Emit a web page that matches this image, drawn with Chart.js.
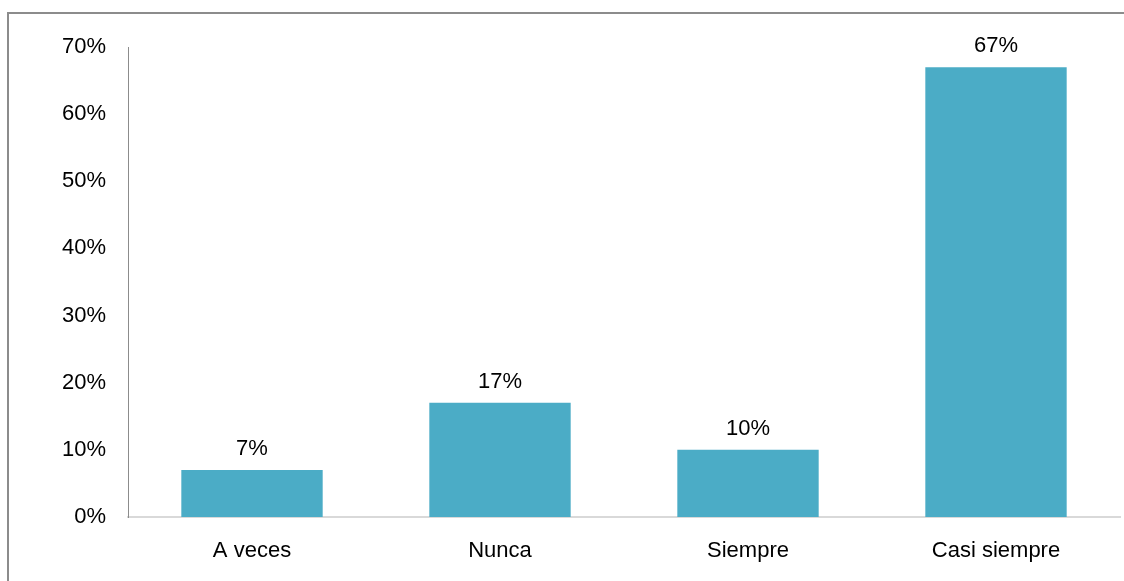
<!DOCTYPE html>
<html>
<head>
<meta charset="utf-8">
<script src="https://cdn.jsdelivr.net/npm/chart.js@4/dist/chart.umd.min.js"></script>
<style>
  html, body { margin: 0; padding: 0; background: #fff; overflow: hidden; }
  #wrap { position: relative; width: 1124px; height: 581px; }
  #frame { position: absolute; left: 7px; top: 12px; right: -4px; bottom: -4px;
           border-top: 2px solid #8c8c8c; border-left: 2px solid #8c8c8c; }
  canvas { position: absolute; left: 0; top: 0; }
</style>
</head>
<body>
<div id="wrap">
  <div id="frame"></div>
  <canvas id="barChart" width="1124" height="581"></canvas>
</div>
<script>
// Survey answers (percent of respondents)
const categories = ['A veces', 'Nunca', 'Siempre', 'Casi siempre'];
const percents = [7, 17, 10, 67];
const yTicks = [0, 10, 20, 30, 40, 50, 60, 70];

const FONT = "'Liberation Sans', Arial, sans-serif";
const SIZE = 22;

// write the percentage above each bar
const valueLabels = {
    id: 'valueLabels',
    afterDatasetsDraw(chart) {
        const ctx = chart.ctx;
        const meta = chart.getDatasetMeta(0);
        ctx.save();
        ctx.font = SIZE + 'px ' + FONT;
        ctx.fillStyle = '#000';
        ctx.textAlign = 'center';
        ctx.textBaseline = 'bottom';
        meta.data.forEach((bar, i) => {
            ctx.fillText(percents[i] + '%', bar.x, bar.y - 10);
        });
        ctx.restore();
    }
};

Chart.defaults.font.family = FONT;
Chart.defaults.font.size = SIZE;
Chart.defaults.color = '#000';

new Chart(document.getElementById('barChart'), {
    type: 'bar',
    data: {
        labels: categories,
        datasets: [{
            data: percents,
            backgroundColor: '#4BACC6',
            barPercentage: 0.57,
            categoryPercentage: 1
        }]
    },
    options: {
        responsive: false,
        animation: false,
        layout: { padding: { top: 47, right: 4, left: 0, bottom: 0 } },
        plugins: { legend: { display: false }, tooltip: { enabled: false } },
        scales: {
            x: {
                grid: { display: false, drawTicks: false },
                border: { color: '#d9d9d9', width: 2 },
                ticks: { padding: 21 },
                afterFit(scale) { scale.height = 64; }
            },
            y: {
                min: 0,
                max: 70,
                afterBuildTicks(scale) { scale.ticks = yTicks.map(v => ({ value: v })); },
                grid: { display: false, drawTicks: false },
                border: { color: '#8c8c8c', width: 1 },
                ticks: { padding: 22, callback: v => v + '%' },
                afterFit(scale) { scale.width = 128; }
            }
        }
    },
    plugins: [valueLabels]
});
</script>
</body>
</html>
